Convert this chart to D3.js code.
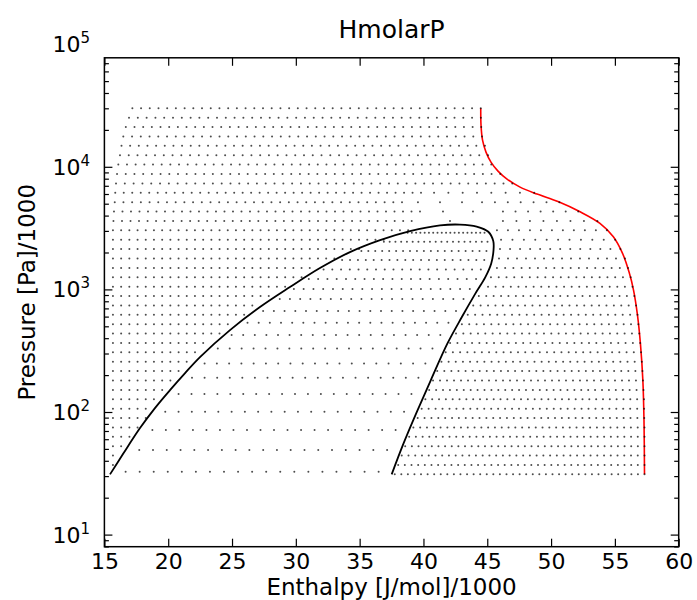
<!DOCTYPE html>
<html lang="en">
<head>
<meta charset="UTF-8">
<title>HmolarP</title>
<script src="https://d3js.org/d3.v7.min.js"></script>
<style>
  body { margin: 0; background: #fff; }
  svg text { font-family: "DejaVu Sans", sans-serif; fill: #000; }
</style>
</head>
<body>
<svg id="chart" width="697" height="600"></svg>
<script>
// tick values
const xTicks = [15, 20, 25, 30, 35, 40, 45, 50, 55, 60];
const yDecades = [10, 100, 1000, 10000, 100000];
const yExponents = ["1", "2", "3", "4", "5"];

// pressure of each row of the single-phase grid [kPa]
const rowPressure = [31.0, 36.98, 44.10, 52.60, 62.75, 74.84, 89.27, 106.5, 127.0, 151.5,
  180.7, 215.5, 257.1, 306.6, 365.7, 436.2, 520.3, 620.6, 740.3, 883.0,
  1053, 1256, 1498, 1787, 2132, 2543, 3033, 3618, 4315, 5147,
  6139, 7323, 8734, 10418, 12426, 14822, 17679, 21087, 25153, 30000];

// single-phase dots along each row: [row, first h, last h, count]
const gridSegments = [
  [1, 15.67, 15.67, 1], [2, 15.67, 15.67, 1], [3, 15.67, 16.31, 2], [4, 15.67, 16.96, 3],
  [5, 15.67, 17.60, 4], [6, 15.67, 18.24, 5], [7, 15.67, 18.24, 5], [8, 15.67, 18.88, 6],
  [9, 15.67, 19.53, 7], [10, 15.67, 20.17, 8], [11, 15.67, 20.81, 9], [12, 15.67, 21.45, 10],
  [13, 15.67, 22.10, 11], [14, 15.67, 22.74, 12], [15, 15.67, 24.02, 14], [16, 15.67, 24.67, 15],
  [17, 15.67, 25.95, 17], [18, 15.67, 26.59, 18], [19, 15.67, 27.88, 20], [20, 15.67, 29.16, 22],
  [21, 15.67, 30.45, 24], [22, 15.67, 31.09, 25], [23, 15.67, 33.02, 28], [24, 15.67, 34.95, 31],
  [25, 15.67, 36.88, 34], [26, 15.67, 38.80, 37],
  // vapour side
  [0, 37.75, 57.32, 39], [1, 38.02, 57.32, 38], [2, 38.30, 57.32, 37], [3, 38.57, 57.32, 37],
  [4, 38.88, 57.32, 36], [5, 39.21, 57.32, 35], [6, 39.55, 57.30, 34], [7, 39.86, 57.29, 33],
  [8, 40.15, 57.28, 33], [9, 40.45, 57.24, 32], [10, 40.75, 57.20, 31], [11, 41.08, 57.16, 30],
  [12, 41.41, 57.11, 29], [13, 41.74, 57.05, 28], [14, 42.09, 56.98, 27], [15, 42.55, 56.91, 26],
  [16, 43.01, 56.84, 25], [17, 43.47, 56.77, 24], [18, 43.90, 56.66, 23], [19, 44.34, 56.52, 22],
  [20, 45.06, 56.38, 20], [21, 45.29, 56.24, 19], [22, 45.76, 56.03, 17], [23, 45.92, 55.79, 15],
  [24, 46.00, 55.43, 13], [25, 46.08, 55.02, 11], [26, 45.76, 54.37, 11],
  // above the dome
  [27, 15.71, 39.08, 36], [27, 42.08, 42.08, 1], [27, 46.23, 53.63, 8],
  [28, 15.75, 39.73, 37], [28, 41.53, 43.88, 2], [28, 46.23, 52.13, 7],
  [29, 15.81, 38.32, 34], [29, 39.57, 43.02, 3], [29, 44.59, 50.65, 7],
  [30, 15.85, 39.81, 37], [30, 40.83, 48.68, 8],
  [31, 15.91, 46.96, 46], [32, 15.99, 46.02, 45], [33, 16.09, 45.31, 44], [34, 16.22, 45.06, 43],
  [35, 16.34, 44.82, 43], [36, 16.48, 44.59, 42], [37, 16.68, 44.53, 42], [38, 16.93, 44.50, 41],
  [39, 17.19, 44.49, 41]
];

// two-phase rows: pressure and saturated liquid / vapour enthalpy
const twoPhaseP = [2895, 2445, 2053, 1734, 1456, 1213, 1006, 833.6, 665.3, 534.1,
  423.8, 330.2, 249.1, 190.1, 140.0, 100.4, 71.2, 48.9, 32.5];
const twoPhaseHL = [38.42, 36.45, 34.59, 33.01, 31.49, 30.29, 29.08, 27.94, 26.60, 25.34,
  24.06, 22.95, 21.89, 20.88, 19.80, 18.73, 17.70, 16.65, 15.56];
const twoPhaseHV = [45.12, 45.47, 45.48, 45.38, 45.18, 44.85, 44.40, 43.94, 43.39, 42.83,
  42.23, 41.64, 41.11, 40.59, 40.07, 39.52, 38.88, 38.23, 37.59];
const qualities = [0.05, 0.10, 0.15, 0.20, 0.25, 0.30, 0.35, 0.40, 0.45, 0.50,
  0.55, 0.60, 0.65, 0.70, 0.75, 0.80, 0.85, 0.90, 0.95];

// saturation curve (liquid side up, then vapour side down)
const domeH = [15.44, 16.48, 17.79, 18.96, 20.14, 21.32, 22.49, 24.84, 27.19, 29.54, 31.89, 34.24,
  36.60, 38.95, 41.30, 42.86, 44.17, 45.08, 45.47, 45.49, 45.31, 44.86, 44.04, 43.02,
  41.88, 40.58, 39.43, 38.44, 37.51];
const domeP = [31, 45.8, 73.9, 107.6, 150.8, 207.7, 280.4, 465.6, 717.3, 1044, 1492, 2015,
  2524, 2989, 3327, 3377, 3252, 2951, 2477, 2093, 1630, 1267, 915.6, 597.6,
  362.6, 182.1, 97.4, 55.4, 31];

// upper temperature limit (red)
const redH = [44.49, 44.51, 44.63, 44.90, 45.29, 45.84, 46.55, 47.57, 48.90, 50.54, 52.27,
  53.83, 54.88, 55.60, 56.11, 56.46, 56.77, 57.01, 57.19, 57.28, 57.32];
const redP = [30000, 21890, 16510, 13180, 10920, 9224, 7935, 6830, 5988, 5203, 4295,
  3453, 2685, 1967, 1384, 987, 617, 351.3, 182.1, 85.9, 31];

const svg = d3.select("#chart");
const frame = { left: 104.4, right: 678.7, top: 57.8, bottom: 546.7 };

const x = d3.scaleLinear().domain([15, 60]).range([frame.left, frame.right]);
// decades are not flush with the frame in the original
const y = d3.scaleLog().domain([10, 100000]).range([534.6, 44.2]);

// curves
const line = d3.line().x(d => x(d[0])).y(d => y(d[1])).curve(d3.curveCatmullRom.alpha(0.5));

svg.append("path")
  .attr("d", line(domeH.map((h, i) => [h, domeP[i]])))
  .attr("fill", "none").attr("stroke", "#000").attr("stroke-width", 1.8);

svg.append("path")
  .attr("d", line(redH.map((h, i) => [h, redP[i]])))
  .attr("fill", "none").attr("stroke", "#f00").attr("stroke-width", 1.6);

// grid points
const dots = [];
gridSegments.forEach(([row, h0, h1, n]) => {
  for (let k = 0; k < n; k++) {
    const h = n === 1 ? h0 : h0 + (h1 - h0) * k / (n - 1);
    dots.push([h, rowPressure[row]]);
  }
});
twoPhaseP.forEach((p, i) => {
  qualities.forEach(q => dots.push([twoPhaseHL[i] + q * (twoPhaseHV[i] - twoPhaseHL[i]), p]));
});

svg.append("g").selectAll("circle")
  .data(dots)
  .join("circle")
  .attr("cx", d => x(d[0]))
  .attr("cy", d => y(d[1]))
  .attr("r", 1.0)
  .attr("fill", "#000")
  .attr("fill-opacity", 0.7);

// frame
svg.append("rect")
  .attr("x", frame.left).attr("y", frame.top)
  .attr("width", frame.right - frame.left).attr("height", frame.bottom - frame.top)
  .attr("fill", "none").attr("stroke", "#000").attr("stroke-width", 1.5);

// x axes (ticks point inwards)
const xAxisBottom = svg.append("g")
  .attr("transform", `translate(0,${frame.bottom})`)
  .call(d3.axisBottom(x).tickValues(xTicks).tickSize(-8).tickPadding(7).tickFormat(d3.format("d")));
svg.append("g")
  .attr("transform", `translate(0,${frame.top})`)
  .call(d3.axisTop(x).tickValues(xTicks).tickSize(-8).tickFormat(""));

// y ticks: majors and minors inside the frame
const yMinor = [];
[1, 10, 100, 1000, 10000].forEach(d => {
  for (let m = 2; m <= 9; m++) yMinor.push(d * m);
});
const inFrame = v => y(v) >= frame.top && y(v) <= frame.bottom;
const yMajorIn = yDecades.filter(inFrame);
const yMinorIn = yMinor.filter(inFrame);

[[frame.left, d3.axisLeft], [frame.right, d3.axisRight]].forEach(([xPos, axisFn]) => {
  svg.append("g").attr("transform", `translate(${xPos},0)`)
    .call(axisFn(y).tickValues(yMajorIn).tickSize(-8).tickFormat(""));
  svg.append("g").attr("transform", `translate(${xPos},0)`)
    .call(axisFn(y).tickValues(yMinorIn).tickSize(-4.5).tickFormat(""));
});

svg.selectAll(".domain").remove();
svg.selectAll(".tick line").attr("stroke", "#000").attr("stroke-width", 1.2);

xAxisBottom.selectAll("text")
  .style("font-family", "DejaVu Sans, sans-serif")
  .style("font-size", "22px")
  .attr("fill", "#000");

// y labels as 10^n
const yLab = svg.append("g");
yDecades.forEach((d, i) => {
  const t = yLab.append("text")
    .attr("x", 90)
    .attr("y", y(d) + 8)
    .attr("text-anchor", "end")
    .style("font-size", "22px");
  t.append("tspan").text("10");
  t.append("tspan").attr("dy", -9).style("font-size", "15px").text(yExponents[i]);
});

// titles
svg.append("text")
  .attr("x", (frame.left + frame.right) / 2).attr("y", 38)
  .attr("text-anchor", "middle").style("font-size", "25px")
  .text("HmolarP");

svg.append("text")
  .attr("x", (frame.left + frame.right) / 2).attr("y", 595)
  .attr("text-anchor", "middle").style("font-size", "23px")
  .text("Enthalpy [J/mol]/1000");

svg.append("text")
  .attr("transform", `translate(35,${(frame.top + frame.bottom) / 2 - 10}) rotate(-90)`)
  .attr("text-anchor", "middle").style("font-size", "23px")
  .text("Pressure [Pa]/1000");
</script>
</body>
</html>
